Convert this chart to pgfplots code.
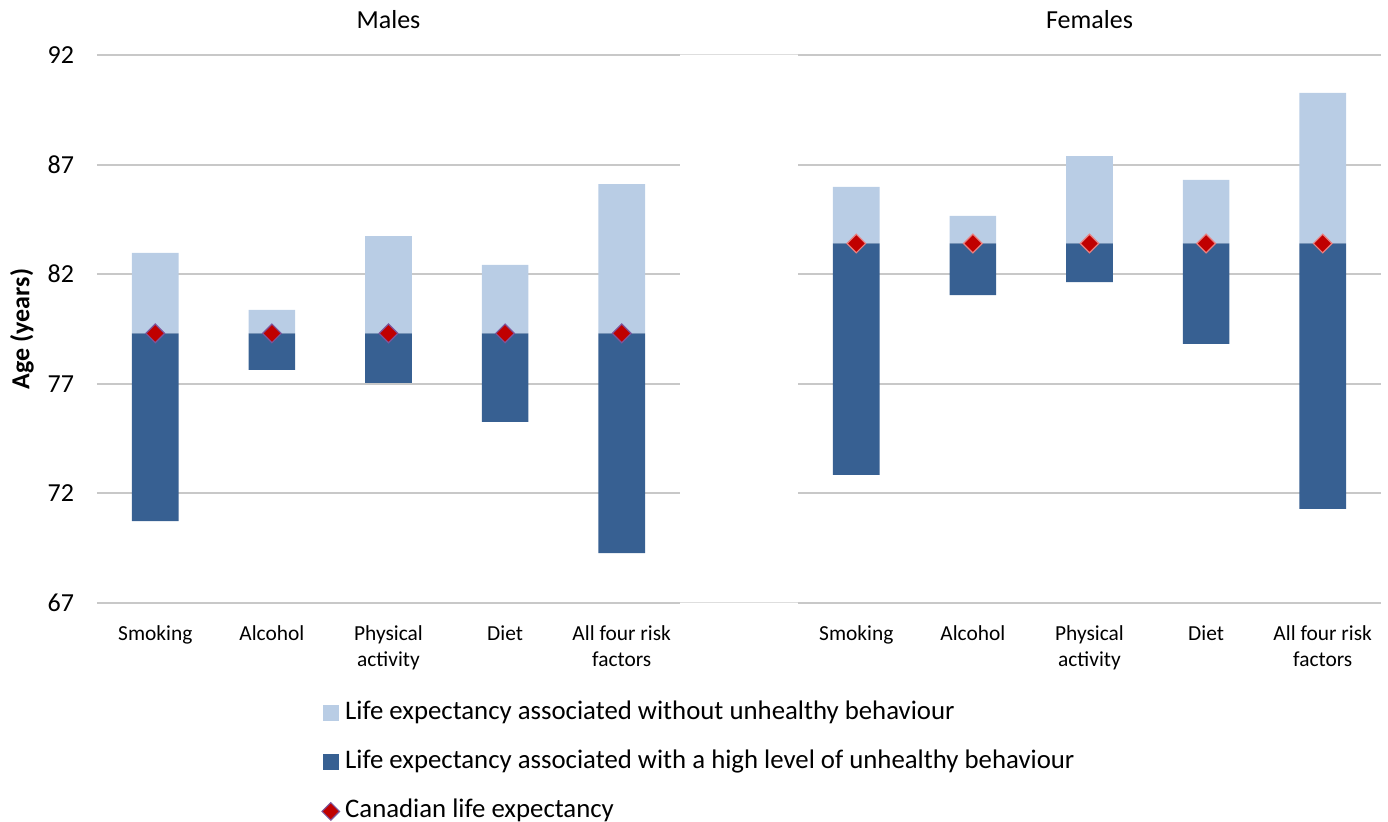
\documentclass[border=0pt]{standalone}
\usepackage{pgfplots}
\pgfplotsset{compat=1.18}
\usepackage{pgfplotstable}
\usepackage{fontspec}
\setmainfont{Carlito}

\definecolor{lightb}{HTML}{B9CDE5}
\definecolor{darkb}{HTML}{376092}
\definecolor{cred}{HTML}{C00000}
\definecolor{mborder}{RGB}{125,85,155}
\definecolor{fborder}{RGB}{232,128,128}
\definecolor{gridc}{HTML}{C8C8C8}

% x = category, low = high level of unhealthy behaviour, le = Canadian LE, high = without unhealthy behaviour
\pgfplotstableread{
x low le high
0 70.74 79.3 82.97
1 77.63 79.3 80.37
2 77.04 79.3 83.74
3 75.26 79.3 82.42
4 69.28 79.3 86.11
}\males
\pgfplotstableread{
x low le high
0 72.84 83.4 85.98
1 81.05 83.4 84.66
2 81.64 83.4 87.39
3 78.82 83.4 86.30
4 71.29 83.4 90.27
}\females

\pgfplotsset{
  panel/.style={
    scale only axis,
    width=291.5pt, height=274pt,
    xmin=-0.5, xmax=4.5,
    ymin=67, ymax=92,
    ytick={67,72,...,92},
    xtick={0,...,4},
    xticklabels={Smoking,Alcohol,{Physical\\activity},Diet,{All four risk\\factors}},
    axis line style={draw=none},
    tick style={draw=none},
    ymajorgrids=true,
    grid style={gridc, line width=1pt},
    /pgf/number format/assume math mode=true,
    yticklabel style={font=\fontsize{13}{15}\selectfont, xshift=-8pt},
    xticklabel style={font=\fontsize{10.7}{13}\selectfont, align=center, yshift=-8pt},
  },
  bars/.style={
    panel,
    ybar stacked,
    bar width=0.4,
    clip=false,
  },
  marks/.style={
    panel,
    hide axis,
  },
}

\begin{document}
\begin{tikzpicture}
\useasboundingbox (-48.5pt,-109.5pt) rectangle (645.5pt,301.5pt);

% thin line joining the two panels
\draw[gridc!60, line width=0.5pt] (291.5pt,0) -- (350.5pt,0);
\draw[gridc!60, line width=0.5pt] (291.5pt,274pt) -- (350.5pt,274pt);

% Males
\begin{axis}[bars,
    legend style={at={(axis description cs:0,0)}, anchor=north west,
        xshift=112pt, yshift=-49pt, draw=none, fill=none,
        font=\fontsize{13.4}{15}\selectfont, row sep=12.5pt,
        inner sep=0pt, cells={anchor=west},
        nodes={inner xsep=2.5pt, inner ysep=0pt, text height=9pt, text depth=3pt}},
]
\addplot[draw=none, fill=none, forget plot] table[x=x, y=low] {\males};
\addplot[draw=none, fill=darkb, forget plot] table[x=x, y expr=\thisrow{le}-\thisrow{low}] {\males};
\addplot[draw=none, fill=lightb, forget plot] table[x=x, y expr=\thisrow{high}-\thisrow{le}] {\males};
\addlegendimage{legend image code/.code={\fill[lightb] (0.5pt,-3.75pt) rectangle (8pt,3.75pt);}}
\addlegendimage{legend image code/.code={\fill[darkb] (0.5pt,-3.75pt) rectangle (8pt,3.75pt);}}
\addlegendimage{legend image code/.code={\filldraw[fill=cred, draw=mborder, line width=0.6pt, shift={(4.4pt,0)}, rotate=45] (-3.1pt,-3.1pt) rectangle (3.1pt,3.1pt);}}
\legend{Life expectancy associated without unhealthy behaviour,
        Life expectancy associated with a high level of unhealthy behaviour,
        Canadian life expectancy}
\node[anchor=base, font=\fontsize{13}{15}\selectfont] at (axis description cs:0.5,1.049) {Males};
\node[rotate=90, font=\bfseries\fontsize{13}{15}\selectfont] at (axis description cs:-0.1286,0.5) {Age (years)};
\end{axis}
\begin{axis}[marks]
\addplot[only marks, mark=square*, mark size=3.3pt,
    mark options={rotate=45, fill=cred, draw=mborder, line width=0.6pt}]
    table[x=x, y=le] {\males};
\end{axis}

% Females
\begin{axis}[bars, at={(350.5pt,0)}, yticklabels={}]
\addplot[draw=none, fill=none, forget plot] table[x=x, y=low] {\females};
\addplot[draw=none, fill=darkb, forget plot] table[x=x, y expr=\thisrow{le}-\thisrow{low}] {\females};
\addplot[draw=none, fill=lightb, forget plot] table[x=x, y expr=\thisrow{high}-\thisrow{le}] {\females};
\node[anchor=base, font=\fontsize{13}{15}\selectfont] at (axis description cs:0.5,1.049) {Females};
\end{axis}
\begin{axis}[marks, at={(350.5pt,0)}]
\addplot[only marks, mark=square*, mark size=3.3pt,
    mark options={rotate=45, fill=cred, draw=fborder, line width=0.6pt}]
    table[x=x, y=le] {\females};
\end{axis}
\end{tikzpicture}
\end{document}
